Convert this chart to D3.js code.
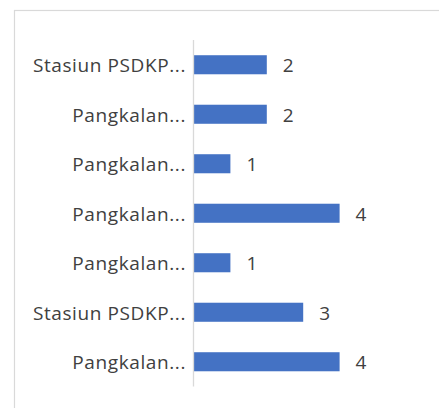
<!DOCTYPE html>
<html lang="en">
<head>
  <meta charset="UTF-8">
  <title>Bar Chart</title>
  <script src="https://d3js.org/d3.v7.min.js"></script>
  <style>
    body { margin: 0; background: #fff; }
    .cat, .val {
      font-family: "Open Sans", sans-serif;
      font-size: 19px;
      fill: #404040;
    }
    .cat { letter-spacing: 0.6px; }
  </style>
</head>
<body>
  <svg></svg>
  <script>
    const width = 439;
    const height = 408;

    // categorias de arriba a abajo
    const categories = ["Stasiun PSDKP...", "Pangkalan...", "Pangkalan...", "Pangkalan...", "Pangkalan...", "Stasiun PSDKP...", "Pangkalan..."];
    const values = [2, 2, 1, 4, 1, 3, 4];

    const svg = d3.select("svg")
        .attr("width", width)
        .attr("height", height);

    // marco del grafico
    svg.append("rect")
        .attr("x", 14.5)
        .attr("y", 10.5)
        .attr("width", 440)
        .attr("height", 420)
        .attr("fill", "white")
        .attr("stroke", "#d9d9d9")
        .attr("stroke-width", 1.2);

    const y = d3.scaleBand()
        .domain(d3.range(categories.length))
        .range([40, 386.5])
        .paddingInner(0.615)
        .paddingOuter(0.3075);

    const x = d3.scaleLinear()
        .domain([0, 5])
        .range([194, 376]);

    // barras
    svg.selectAll(".bar")
        .data(values)
        .enter().append("rect")
        .attr("class", "bar")
        .attr("x", x(0))
        .attr("y", (d, i) => y(i))
        .attr("width", d => x(d) - x(0))
        .attr("height", y.bandwidth())
        .attr("fill", "#4472c4");

    // eje vertical
    svg.append("line")
        .attr("x1", 193.5).attr("x2", 193.5)
        .attr("y1", 40).attr("y2", 386.5)
        .attr("stroke", "#d9d9d9")
        .attr("stroke-width", 1.3);

    // etiquetas de categoria
    svg.selectAll(".cat")
        .data(categories)
        .enter().append("text")
        .attr("class", "cat")
        .attr("x", 186)
        .attr("y", (d, i) => y(i) + y.bandwidth() / 2)
        .attr("dy", "0.4em")
        .attr("text-anchor", "end")
        .text(d => d);

    // etiquetas de valor
    svg.selectAll(".val")
        .data(values)
        .enter().append("text")
        .attr("class", "val")
        .attr("x", d => x(d) + 16)
        .attr("y", (d, i) => y(i) + y.bandwidth() / 2)
        .attr("dy", "0.4em")
        .text(d => d);
  </script>
</body>
</html>
